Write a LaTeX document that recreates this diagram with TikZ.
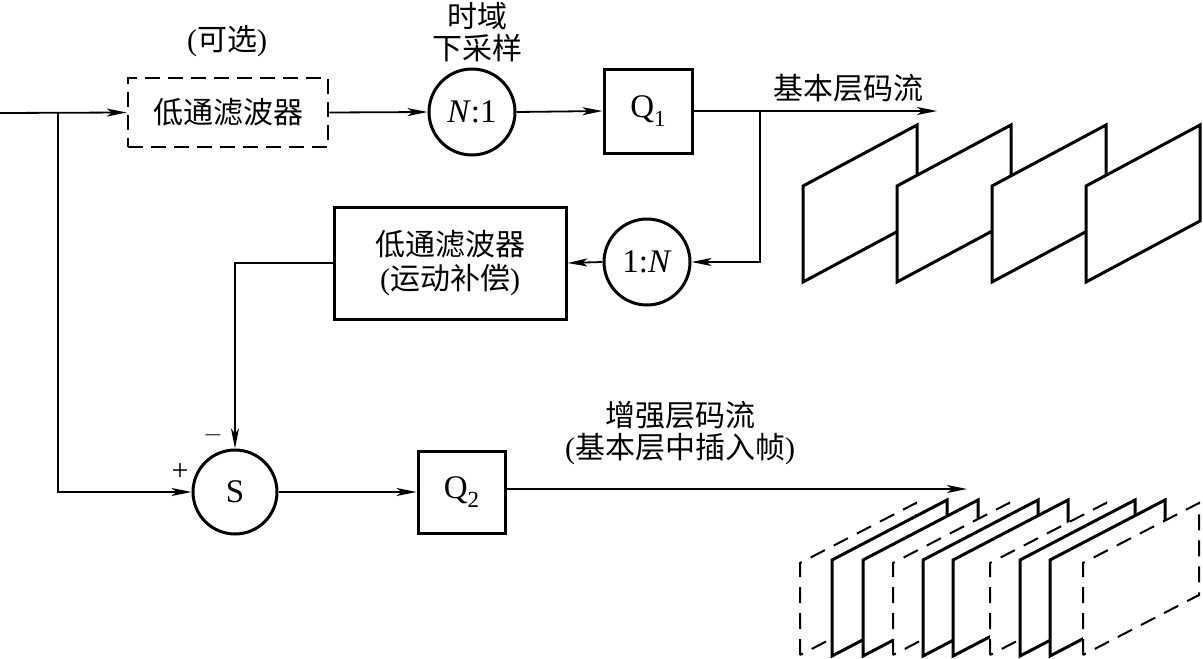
\documentclass[tikz,border=0pt]{standalone}
\usepackage{fontspec}
\setmainfont{Liberation Serif}
\newfontfamily\cjk{Noto Sans CJK SC}
\usetikzlibrary{arrows.meta}
\newcommand{\mysub}[1]{\raisebox{-0.28em}{\fontsize{23}{23}\selectfont #1}}
\tikzset{
  conn/.style={line width=1.8pt,-{Stealth[length=20pt,width=8pt,inset=5pt]}},
  blk/.style={draw,line width=3pt,rectangle,inner sep=0pt,align=center},
  dblk/.style={draw,line width=2.6pt,rectangle,inner sep=0pt,dash pattern=on 15pt off 8pt,align=center},
  crc/.style={draw,line width=3pt,circle,inner sep=0pt,minimum size=86pt},
  lat/.style={font=\fontsize{33}{36}\selectfont},
  lbl/.style={inner sep=0pt,align=center},
  frame/.style={line width=3pt,fill=white,line join=miter},
  dframe/.style={line width=2pt,fill=white,dash pattern=on 16pt off 10pt}
}
\begin{document}
\begin{tikzpicture}[x=1pt,y=-1pt,font=\fontsize{30}{36}\selectfont]
\useasboundingbox (0,0) rectangle (1203,659);

% nodes
\node[dblk,minimum width=200pt,minimum height=69pt] (lpf1) at (228,112.5) {\cjk 低通滤波器};
\node[crc,lat] (down) at (472,112) {\textit{N}:1};
\node[blk,lat,minimum width=88pt,minimum height=84pt] (q1) at (648,111) {Q\mysub{1}};
\node[blk,minimum width=232pt,minimum height=112pt] (lpf2) at (450,263) {{\cjk 低通滤波器}\\[-2pt]({\cjk 运动补偿})};
\node[crc,lat] (up) at (647,262) {1:\textit{N}};
\node[crc,lat,minimum size=84pt] (s) at (235,492) {S};
\node[blk,lat,minimum width=87pt,minimum height=82pt] (q2) at (461.5,492) {Q\mysub{2}};

% labels
\node[lbl] (opt) at (227,41) {({\cjk 可选})};
\node[lbl] (tds) at (477,32) {{\cjk 时域}\\[-4pt]{\cjk 下采样}};
\node[lbl] (base) at (848,88) {\cjk 基本层码流};
\node[lbl] (enh) at (680,433) {{\cjk 增强层码流}\\[-4pt]({\cjk 基本层中插入帧})};
\node[lbl] (minus) at (213,435) {$-$};
\node[lbl] (plus) at (180,472) {+};

% coordinates
\coordinate (in) at (0,113);
\coordinate (br1) at (58,113);
\coordinate (br2) at (760,111);
\coordinate (bout) at (937,111);
\coordinate (eout) at (967,489);

% connectors
\draw[conn] (in) -- (lpf1.west);
\draw[conn] (br1) |- (s.west);
\draw[conn] (lpf1.east) -- (down.west);
\draw[conn] (down.east) -- (q1.west);
\draw[conn] (q1.east) -- (bout);
\draw[conn] (br2) |- (up.east);
\draw[conn] (up.west) -- (lpf2.east);
\draw[conn] (lpf2.west) -| (s.north);
\draw[conn] (s.east) -- (q2.west);
\draw[conn] (q2.east |- eout) -- (eout);

% base layer frames
\foreach \x in {803,897,992,1086}{
  \filldraw[frame] (\x,282) -- (\x,186) -- (\x+114,125) -- (\x+114,221) -- cycle;
}
% enhancement layer frames
\foreach \x/\t in {800/d,832/s,863/s,893/d,923/s,953/s,990/d,1020/s,1050/s,1083/d}{
  \if\t d
    \filldraw[dframe] (\x,655) -- (\x,563) -- (\x+116,503) -- (\x+116,595) -- cycle;
  \else
    \filldraw[frame] (\x,656) -- (\x,560) -- (\x+115,500) -- (\x+115,596) -- cycle;
  \fi
}
\end{tikzpicture}
\end{document}
